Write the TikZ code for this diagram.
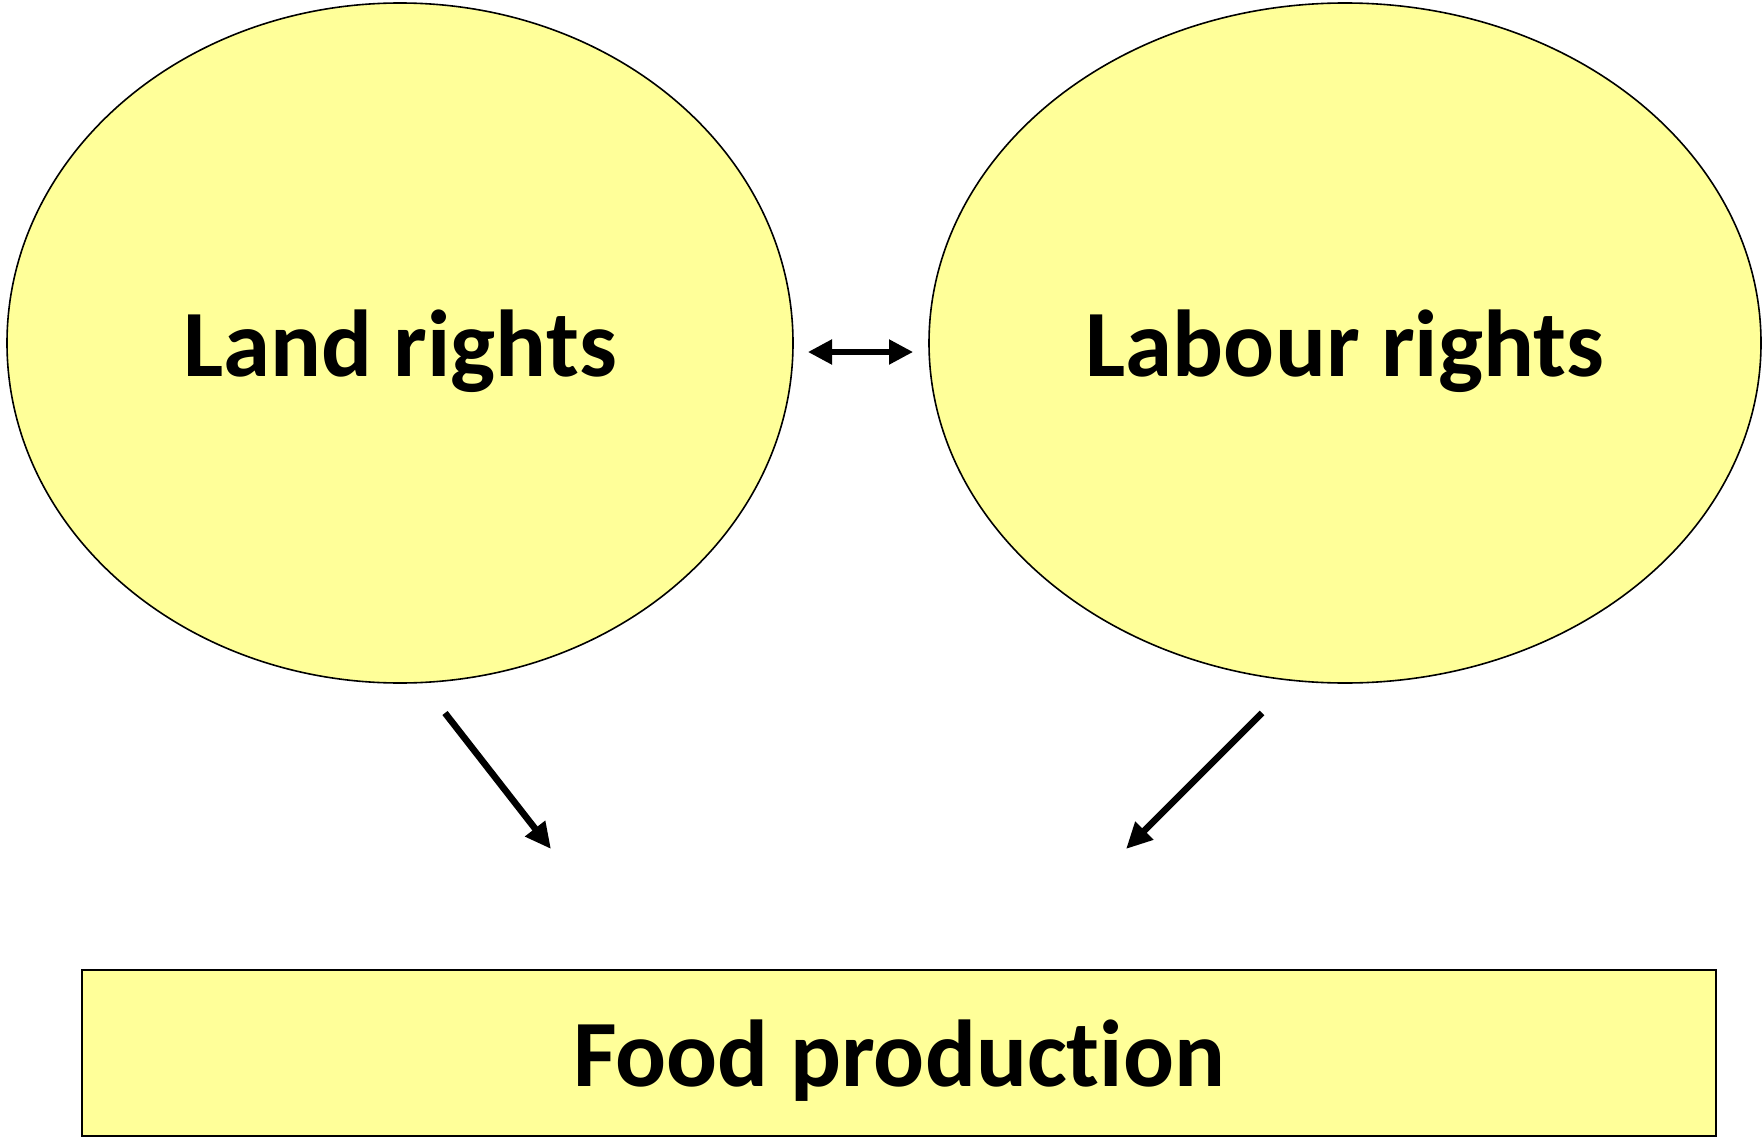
\documentclass[tikz,border=0pt]{standalone}
\usepackage{fontspec}
\setmainfont[Ligatures=NoCommon]{Carlito}
\usetikzlibrary{shapes.geometric,arrows.meta}
\definecolor{paleyellow}{HTML}{FFFF99}
\begin{document}
\begin{tikzpicture}[x=0.5pt, y=-0.5pt,
  rights/.style={ellipse, draw, line width=0.8pt, fill=paleyellow, inner sep=0pt, text depth=0pt,
    font=\fontsize{47.5}{52}\selectfont\bfseries},
  influence/.style={line width=3.3pt, -{Triangle[length=13pt, width=12pt]}}]
\useasboundingbox (0,0) rectangle (1764,1139);

% Two ellipses
\node (land) [rights, minimum width=393pt, minimum height=340pt] at (400,343) {Land rights};
\node (labour) [rights, minimum width=416pt, minimum height=340pt] at (1345,343) {Labour rights};

% Box
\node (food) [draw, line width=1.2pt, fill=paleyellow, minimum width=817pt, minimum height=83pt, text depth=0pt,
  font=\fontsize{47.5}{52}\selectfont\bfseries] at (899,1053) {Food production};

% Arrow ends
\coordinate (landfoot) at (445,713);
\coordinate (landtip) at (551,849);
\coordinate (labourfoot) at (1262,713);
\coordinate (labourtip) at (1126,849);
\coordinate (linkleft) at (808,352);
\coordinate (linkright) at (913,352);

% Arrows
\draw[line width=2.6pt, {Triangle[length=12pt, width=12pt]}-{Triangle[length=12pt, width=12pt]}] (linkleft) -- (linkright);
\draw[influence] (landfoot) -- (landtip);
\draw[influence] (labourfoot) -- (labourtip);
\end{tikzpicture}
\end{document}
